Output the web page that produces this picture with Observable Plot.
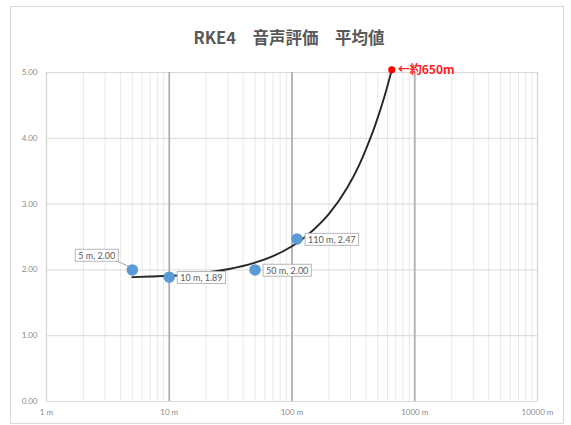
<!DOCTYPE html>
<html><head><meta charset="utf-8">
<script src="https://cdn.jsdelivr.net/npm/d3@7"></script>
<script src="https://cdn.jsdelivr.net/npm/@observablehq/plot@0.6"></script>
<style>
body{margin:0;background:#fff;}
#wrap{position:relative;width:571px;height:425px;overflow:hidden;}
#border{position:absolute;left:10px;top:6px;width:554px;height:418px;border:1px solid #d9d9d9;box-sizing:border-box;}
#chart{position:absolute;left:0;top:0;}
</style></head><body>
<div id="wrap"><div id="border"></div><div id="chart"></div></div>
<script>
const title = "RKE4\u3000音声評価\u3000平均値";
const distances = [5, 10, 50, 110];
const scores = [2.00, 1.89, 2.00, 2.47];
const pointLabels = ["5 m, 2.00", "10 m, 1.89", "50 m, 2.00", "110 m, 2.47"];
const trendDist = [5, 7, 10, 15, 20, 30, 50, 70, 100, 110, 150, 200, 280, 350, 410, 470, 530, 590, 645];
const trendScore = [1.89, 1.90, 1.91, 1.93, 1.96, 2.01, 2.11, 2.21, 2.36, 2.41, 2.61, 2.85, 3.24, 3.58, 3.88, 4.17, 4.46, 4.75, 5.02];
const limitDist = [650];
const limitScore = [5.04];
const limitLabel = ["←約650m"];
const xTicks = [1, 10, 100, 1000, 10000];
const xTickLabels = ["1 m", "10 m", "100 m", "1000 m", "10000 m"];
const yTicks = [0, 1, 2, 3, 4, 5];
const minorMultipliers = [2, 3, 4, 5, 6, 7, 8, 9];
const decades = [1, 10, 100, 1000];

const xMinor = decades.flatMap(d => minorMultipliers.map(m => m * d));
const points = distances.map((d, i) => ({d, s: scores[i], label: pointLabels[i]}));
const trend = trendDist.map((d, i) => ({d, s: trendScore[i]}));
const limit = limitDist.map((d, i) => ({d, s: limitScore[i], label: limitLabel[i]}));

const plot = Plot.plot({
  width: 571,
  height: 425,
  marginLeft: 46,
  marginRight: 34,
  marginTop: 72,
  marginBottom: 24,
  style: {fontFamily: "Lato, 'Noto Sans', sans-serif", fontSize: "8px", color: "#8a8a8a", background: "transparent"},
  x: {type: "log", domain: [1, 10000], ticks: xTicks, tickFormat: d => xTickLabels[xTicks.indexOf(d)], tickSize: 0, tickPadding: 8, label: null},
  y: {domain: [0, 5], ticks: yTicks, tickFormat: d3.format(".2f"), tickSize: 0, tickPadding: 9, label: null},
  marks: [
    Plot.ruleX(xMinor, {stroke: "#e9e9e9", strokeWidth: 1}),
    Plot.ruleY(yTicks, {stroke: "#d9d9d9", strokeWidth: 1}),
    Plot.ruleX([xTicks[0], xTicks[4]], {stroke: "#d4d4d4", strokeWidth: 1.2}),
    Plot.ruleX(xTicks.slice(1, 4), {stroke: "#b0b0b0", strokeWidth: 1.8}),
    Plot.line(trend, {x: "d", y: "s", stroke: "#262626", strokeWidth: 1.9, curve: "monotone-x"}),
    Plot.dot(points, {x: "d", y: "s", r: 5, fill: "#5b9bd5", stroke: "#5b9bd5"}),
    Plot.dot(limit, {x: "d", y: "s", r: 3.6, fill: "#ff0000", clip: false}),
    Plot.text(limit, {x: "d", y: "s", text: "label", textAnchor: "start", dx: 6, dy: 0, fill: "#ff2020", fontSize: 12, fontWeight: "bold", fontFamily: "'Noto Sans CJK JP', sans-serif"}),
    Plot.text(points.slice(0, 1), {x: "d", y: "s", text: "label", textAnchor: "end", dx: -17, dy: -14, fill: "#595959", fontSize: 9, ariaDescription: "pointlabels"}),
    Plot.text(points.slice(1), {x: "d", y: "s", text: "label", textAnchor: "start", dx: 11, dy: 1, fill: "#595959", fontSize: 9, ariaDescription: "pointlabels"}),
    Plot.text([title], {text: d => d, frameAnchor: "top", dy: -40, dx: -3, fill: "#595959", fontSize: 16.5, fontWeight: "bold", fontFamily: "'Noto Sans CJK JP', sans-serif"})
  ]
});
document.getElementById("chart").appendChild(plot);

// label boxes
const ns = "http://www.w3.org/2000/svg";
const svgRect = plot.getBoundingClientRect();
let firstBox = null;
plot.querySelectorAll('g[aria-description="pointlabels"] text').forEach((t, i) => {
  const bb = t.getBBox();
  const r = document.createElementNS(ns, "rect");
  r.setAttribute("x", bb.x - 3);
  r.setAttribute("y", bb.y - 0.5);
  r.setAttribute("width", bb.width + 6);
  r.setAttribute("height", bb.height + 1);
  r.setAttribute("fill", "#ffffff");
  r.setAttribute("stroke", "#b8b8b8");
  r.setAttribute("stroke-width", "1");
  if (t.getAttribute("transform")) r.setAttribute("transform", t.getAttribute("transform"));
  t.parentNode.insertBefore(r, t);
  if (!firstBox) firstBox = r;
});
// leader line for the first label
if (firstBox) {
  const b = firstBox.getBoundingClientRect();
  const px = plot.scale("x").apply(points[0].d);
  const py = plot.scale("y").apply(points[0].s);
  const line = document.createElementNS(ns, "line");
  line.setAttribute("x1", b.right - svgRect.left - 1);
  line.setAttribute("y1", b.bottom - svgRect.top);
  line.setAttribute("x2", px - 3);
  line.setAttribute("y2", py - 3);
  line.setAttribute("stroke", "#a6a6a6");
  line.setAttribute("stroke-width", "1");
  plot.appendChild(line);
}
</script>
</body></html>
